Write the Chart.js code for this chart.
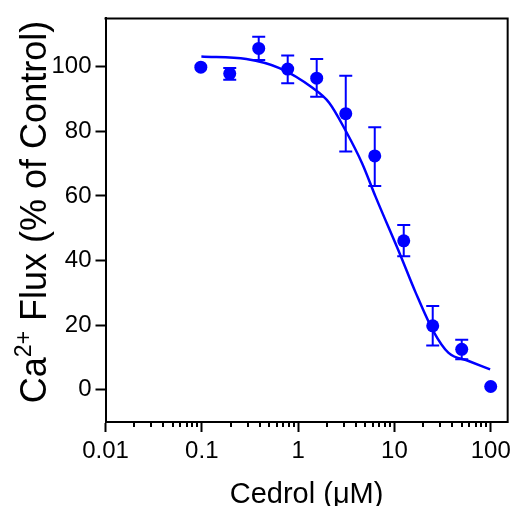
<!DOCTYPE html>
<html>
<head>
<meta charset="utf-8">
<script src="https://cdn.jsdelivr.net/npm/chart.js@4/dist/chart.umd.min.js"></script>
<style>
  html, body { margin: 0; padding: 0; background: #fff; }
  #wrap { width: 516px; height: 506px; }
</style>
</head>
<body>
<div id="wrap"><canvas id="c" width="516" height="506"></canvas></div>
<script>
// ---- data ----
const concentrations = [0.0977, 0.195, 0.39, 0.78, 1.56, 3.125, 6.25, 12.5, 25, 50, 100];
const fluxMean  = [99.9, 97.9, 105.7, 99.3, 96.5, 85.5, 72.4, 46.1, 19.8, 12.5, 1.0];
const fluxUpper = [99.9, 99.6, 109.3, 103.5, 102.4, 97.2, 81.3, 51.0, 25.9, 15.5, 1.0];
const fluxLower = [99.9, 96.0, 102.1, 94.9, 90.7, 73.8, 63.1, 41.3, 13.7, 9.4, 1.0];

// fitted curve
const curveX = [0.099, 0.29, 0.64, 1.41, 2.1, 3.12, 4.64, 6.37, 11.6, 16.5, 25.5, 36.5, 58.9, 98.6];
const curveY = [103.2, 102.4, 99.6, 93.5, 88.9, 80.2, 70.0, 59.8, 41.5, 30.3, 18.0, 11.4, 8.9, 6.3];

const xTickValues = [0.01, 0.1, 1, 10, 100];
const xTickLabels = ['0.01', '0.1', '1', '10', '100'];
const yTickValues = [0, 20, 40, 60, 80, 100];
const yTickLabels = ['0', '20', '40', '60', '80', '100'];

const xTitle = 'Cedrol (\u03BCM)';
const yTitleParts = ['Ca', '2+', ' Flux (% of Control)'];

const BLUE = '#0000FF';
const FONT = '"Liberation Sans", Arial, sans-serif';

const errorBars = {
  id: 'errorBars',
  beforeDatasetsDraw(chart) {
    const ctx = chart.ctx, xs = chart.scales.x, ys = chart.scales.y;
    ctx.save();
    ctx.strokeStyle = BLUE;
    ctx.lineWidth = 2;
    const cap = 6.5;
    concentrations.forEach((c, i) => {
      if (fluxUpper[i] === fluxLower[i]) return;
      const px = xs.getPixelForValue(c);
      const pt = ys.getPixelForValue(fluxUpper[i]);
      const pb = ys.getPixelForValue(fluxLower[i]);
      ctx.beginPath();
      ctx.moveTo(px, pt); ctx.lineTo(px, pb);
      ctx.moveTo(px - cap, pt); ctx.lineTo(px + cap, pt);
      ctx.moveTo(px - cap, pb); ctx.lineTo(px + cap, pb);
      ctx.stroke();
    });
    ctx.restore();
  }
};

const frameAndTitles = {
  id: 'frameAndTitles',
  afterDraw(chart) {
    const ctx = chart.ctx, a = chart.chartArea, xs = chart.scales.x;
    ctx.save();
    // top and right frame
    ctx.strokeStyle = '#000';
    ctx.lineWidth = 2;
    ctx.beginPath();
    ctx.moveTo(a.left - 1, a.top);
    ctx.lineTo(a.right, a.top);
    ctx.lineTo(a.right, a.bottom + 1);
    ctx.stroke();
    // minor log ticks
    ctx.lineWidth = 2;
    ctx.beginPath();
    for (let d = 0.01; d < 100; d *= 10) {
      for (let m = 2; m <= 9; m++) {
        const v = +(d * m).toPrecision(3);
        const px = Math.round(xs.getPixelForValue(v));
        ctx.moveTo(px, a.bottom);
        ctx.lineTo(px, a.bottom + 5);
      }
    }
    ctx.stroke();
    // x title
    ctx.fillStyle = '#000';
    ctx.font = '29px ' + FONT;
    ctx.textAlign = 'center';
    ctx.textBaseline = 'alphabetic';
    ctx.fillText(xTitle, (a.left + a.right) / 2, 503);
    // y title (rotated, with superscript)
    ctx.translate(46, 212);
    ctx.rotate(-Math.PI / 2);
    const big = '36px ' + FONT, small = '23px ' + FONT;
    ctx.font = big; const w0 = ctx.measureText(yTitleParts[0]).width;
    ctx.font = small; const w1 = ctx.measureText(yTitleParts[1]).width;
    ctx.font = big; const w2 = ctx.measureText(yTitleParts[2]).width;
    let x0 = -(w0 + w1 + w2) / 2;
    ctx.textAlign = 'left';
    ctx.font = big; ctx.fillText(yTitleParts[0], x0, 0);
    ctx.font = small; ctx.fillText(yTitleParts[1], x0 + w0, -15);
    ctx.font = big; ctx.fillText(yTitleParts[2], x0 + w0 + w1, 0);
    ctx.restore();
  }
};

new Chart(document.getElementById('c'), {
  type: 'scatter',
  data: {
    datasets: [
      {
        type: 'line',
        data: curveX.map((x, i) => ({ x, y: curveY[i] })),
        borderColor: BLUE,
        borderWidth: 2.5,
        pointRadius: 0,
        fill: false,
        cubicInterpolationMode: 'monotone'
      },
      {
        data: concentrations.map((x, i) => ({ x, y: fluxMean[i] })),
        backgroundColor: BLUE,
        borderColor: BLUE,
        borderWidth: 0,
        pointRadius: 6.5,
        pointHoverRadius: 6.5
      }
    ]
  },
  options: {
    responsive: false,
    animation: false,
    events: [],
    layout: { padding: { top: 13, right: 6, left: 0, bottom: 0 } },
    plugins: { legend: { display: false }, tooltip: { enabled: false } },
    scales: {
      x: {
        type: 'logarithmic',
        min: 0.01, max: 150,
        afterBuildTicks: s => { s.ticks = xTickValues.map(v => ({ value: v })); },
        afterFit: s => { s.height = 84; },
        border: { display: true, color: '#000', width: 2 },
        grid: { display: true, drawOnChartArea: false, drawTicks: true, tickLength: 10, tickWidth: 2, tickColor: '#000' },
        ticks: {
          autoSkip: false, maxRotation: 0,
          color: '#000', font: { family: FONT, size: 24 }, padding: 5,
          callback: (v, i) => xTickLabels[i]
        }
      },
      y: {
        min: -10, max: 115,
        afterBuildTicks: s => { s.ticks = yTickValues.map(v => ({ value: v })); },
        afterFit: s => { s.width = 105.5; },
        border: { display: true, color: '#000', width: 2 },
        grid: { display: true, drawOnChartArea: false, drawTicks: true, tickLength: 10, tickWidth: 2, tickColor: '#000' },
        ticks: {
          autoSkip: false,
          color: '#000', font: { family: FONT, size: 24 }, padding: 4,
          callback: (v, i) => yTickLabels[i]
        }
      }
    }
  },
  plugins: [errorBars, frameAndTitles]
});
</script>
</body>
</html>
